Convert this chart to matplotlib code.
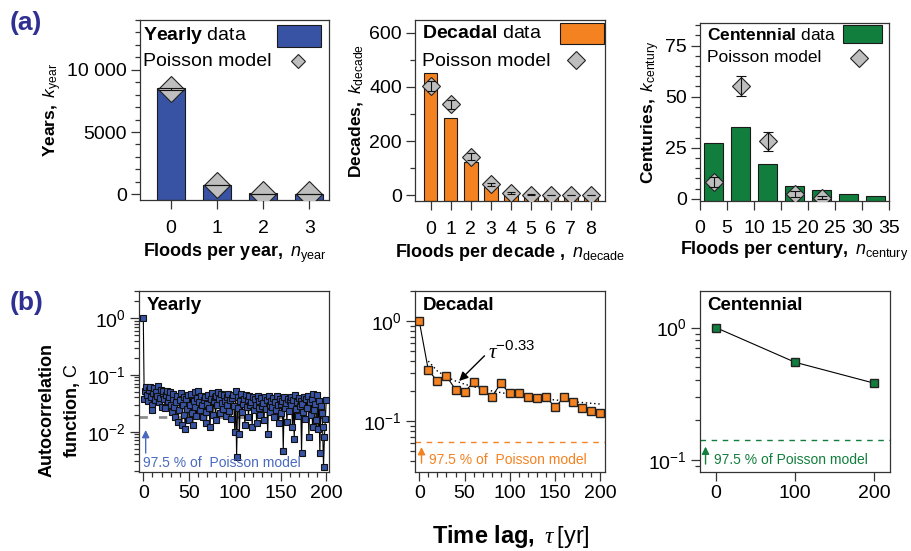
import numpy as np
import matplotlib
matplotlib.use('Agg')
import matplotlib.pyplot as plt
from matplotlib.lines import Line2D
from matplotlib.patches import Rectangle
from matplotlib.ticker import MultipleLocator, FuncFormatter, LogLocator, NullFormatter

plt.rcParams['font.family'] = 'Liberation Sans'
plt.rcParams['mathtext.fontset'] = 'custom'
plt.rcParams['mathtext.rm'] = 'Liberation Sans'
plt.rcParams['mathtext.it'] = 'Liberation Sans:italic'
plt.rcParams['mathtext.bf'] = 'Liberation Sans:bold'
plt.rcParams['mathtext.cal'] = 'Liberation Serif:italic'

## colors
BLUE = '#3953A4'
ORANGE = '#F58220'
GREEN = '#127E3D'
GREY = '#BEBEBE'
NAVY = '#2E3192'

## (a) histogram data
n_year = [0, 1, 2, 3]
k_year = [8520, 720, 75, 15]
poisson_year = [8480, 745, 33, 1]
poisson_year_err = [90, 27, 6, 1]

n_decade = [0, 1, 2, 3, 4, 5, 6, 7, 8]
k_decade = [453, 284, 121, 29, 8, 3, 1, 1, 1]
poisson_decade = [404, 336, 142, 40, 8, 1.4, 0.2, 0.02, 0]
poisson_decade_err = [18, 17, 12, 6, 3, 1, 0.5, 0.3, 0.1]

n_century = [2.5, 7.5, 12.5, 17.5, 22.5, 27.5, 32.5]
k_century = [27.3, 35.2, 17.2, 6.5, 4.4, 2.4, 1.5]
n_century_model = [2.5, 7.5, 12.5, 17.5, 22.5]
poisson_century = [8.1, 55.3, 28.1, 2.4, 0.7]
poisson_century_err = [2.5, 4.9, 4.5, 1.5, 0.7]

## (b) autocorrelation data
acf_year = [1.0,
    0.038, 0.052, 0.060, 0.045, 0.035, 0.055, 0.062, 0.041, 0.030, 0.024,
    0.048, 0.058, 0.036, 0.050, 0.043, 0.063, 0.033, 0.039, 0.055, 0.027,
    0.046, 0.052, 0.037, 0.026, 0.044, 0.051, 0.034, 0.041, 0.049, 0.030,
    0.022, 0.038, 0.047, 0.027, 0.018, 0.033, 0.043, 0.015, 0.024, 0.036,
    0.048, 0.013, 0.029, 0.041, 0.020, 0.011, 0.037, 0.025, 0.044, 0.016,
    0.030, 0.046, 0.021, 0.013, 0.035, 0.049, 0.027, 0.019, 0.039, 0.052,
    0.033, 0.024, 0.043, 0.029, 0.018, 0.036, 0.040, 0.022, 0.014, 0.031,
    0.045, 0.026, 0.012, 0.037, 0.048, 0.020, 0.034, 0.041, 0.016, 0.043,
    0.029, 0.050, 0.038, 0.021, 0.046, 0.032, 0.025, 0.044, 0.035, 0.019,
    0.041, 0.030, 0.047, 0.023, 0.036, 0.017, 0.039, 0.045, 0.028, 0.010,
    0.053, 0.0036, 0.026, 0.040, 0.009, 0.034, 0.047, 0.022, 0.031, 0.038,
    0.013, 0.044, 0.027, 0.036, 0.018, 0.042, 0.029, 0.033, 0.012, 0.040,
    0.024, 0.037, 0.030, 0.014, 0.043, 0.026, 0.034, 0.020, 0.039, 0.028,
    0.032, 0.016, 0.041, 0.025, 0.036, 0.009, 0.043, 0.030, 0.022, 0.035,
    0.027, 0.039, 0.018, 0.033, 0.024, 0.042, 0.029, 0.014, 0.037, 0.031,
    0.021, 0.035, 0.0045, 0.040, 0.026, 0.032, 0.015, 0.038, 0.023, 0.034,
    0.029, 0.041, 0.012, 0.036, 0.0075, 0.044, 0.025, 0.033, 0.019, 0.039,
    0.028, 0.035, 0.0042, 0.031, 0.022, 0.040, 0.017, 0.037, 0.026, 0.043,
    0.008, 0.033, 0.020, 0.038, 0.012, 0.046, 0.024, 0.031, 0.016, 0.045,
    0.011, 0.035, 0.0042, 0.028, 0.021, 0.012, 0.0024, 0.008, 0.017, 0.036]
lag_year = np.arange(len(acf_year))

lag_decade = [0, 10, 20, 30, 40, 50, 60, 70, 80, 90, 100,
              110, 120, 130, 140, 150, 160, 170, 180, 190, 200]
acf_decade = [1.0, 0.324, 0.251, 0.282, 0.207, 0.196, 0.245, 0.204, 0.175, 0.238, 0.189,
              0.192, 0.175, 0.172, 0.175, 0.137, 0.175, 0.156, 0.134, 0.126, 0.121]
fit_exponent = -0.33
fit_amplitude = 0.851

lag_century = [0, 100, 200]
acf_century = [1.0, 0.547, 0.38]

## 97.5 % levels of the Poisson model
level_year = 0.0184
level_decade = 0.0612
level_century = 0.141

W, H = 912, 551
fig = plt.figure(figsize=(W / 100, H / 100), dpi=100)


def add_ax(x0, y0, x1, y1):
    return fig.add_axes([x0 / W, 1 - y1 / H, (x1 - x0) / W, (y1 - y0) / H])


def style(ax):
    for s in ax.spines.values():
        s.set_color('#333333')
        s.set_linewidth(0.9)
    ax.tick_params(which='both', direction='out', top=False, right=False,
                   labelsize=14, width=0.9, color='#333333', pad=3)
    ax.tick_params(which='major', length=6.5)
    ax.tick_params(which='minor', length=3.5)


def bars(ax, x, k, width, color, bottom):
    ax.bar(x, np.array(k) - bottom, bottom=bottom, width=width, color=color,
           edgecolor='#1a1a1a', lw=0.8, zorder=2)


def poisson(ax, x, y, err, ms, cap):
    ax.plot(x, y, 'D', ms=ms, mfc=GREY, mec='#222222', mew=0.8, zorder=3)
    ax.errorbar(x, y, yerr=err, fmt='none', ecolor='#111111', elinewidth=0.8,
                capsize=cap, capthick=0.8, zorder=4)


def key(name, color, fs, tx, y1, y2, box, dxy, dms):
    # hand-placed legend: text left aligned, keys on the right (pixel positions)
    fig.text(tx / W, 1 - y1 / H, r'$\mathbf{%s}$ data' % name, fontsize=fs,
             ha='left', va='center')
    fig.text(tx / W, 1 - y2 / H, 'Poisson model', fontsize=fs, ha='left', va='center')
    x0, yb0, x1, yb1 = box
    fig.add_artist(Rectangle((x0 / W, 1 - yb1 / H), (x1 - x0) / W, (yb1 - yb0) / H,
                             transform=fig.transFigure, facecolor=color,
                             edgecolor='#1a1a1a', lw=0.8))
    fig.add_artist(Line2D([dxy[0] / W], [1 - dxy[1] / H], transform=fig.transFigure,
                          marker='D', ls='none', ms=dms, mfc=GREY, mec='#222222', mew=0.8))


## (a) yearly
ax = add_ax(140, 20, 329, 200)
style(ax)
ax.set_ylim(-460, 14000)
bars(ax, n_year, k_year, 0.6, BLUE, -460)
poisson(ax, n_year, poisson_year, poisson_year_err, 13.7, 9.5)
ax.set_xlim(-0.67, 3.43)
ax.set_xticks(n_year)
ax.tick_params(axis='x', pad=8)
ax.yaxis.set_major_locator(MultipleLocator(5000))
ax.yaxis.set_minor_locator(MultipleLocator(1000))
ax.yaxis.set_major_formatter(FuncFormatter(lambda v, p: '10 000' if v >= 10000 else '%d' % v))
key('Yearly', BLUE, 14, 143, 36, 61, (277, 25, 321, 47), (298, 61), 7.6)
ax.set_xlabel(r'$\mathbf{Floods\ per\ year,}$ $n_{\mathrm{year}}$', fontsize=13, labelpad=3)
ax.set_ylabel(r'$\mathbf{Years,}$ $k_{\mathrm{year}}$', fontsize=12.5, labelpad=2)

## (a) decadal
ax = add_ax(415, 20, 605, 201)
style(ax)
ax.set_ylim(-22, 648)
bars(ax, n_decade, k_decade, 0.68, ORANGE, -22)
poisson(ax, n_decade, poisson_decade, poisson_decade_err, 9.2, 3.2)
ax.set_xlim(-0.78, 8.7)
ax.set_xticks(n_decade)
ax.tick_params(axis='x', pad=8)
ax.yaxis.set_major_locator(MultipleLocator(200))
ax.yaxis.set_minor_locator(MultipleLocator(100))
key('Decadal', ORANGE, 14, 422, 34, 61, (560, 23, 604, 44), (576, 60), 9.2)
ax.set_xlabel(r'$\mathbf{Floods\ per\ decade\ ,}$ $n_{\mathrm{decade}}$', fontsize=13, labelpad=3)
ax.set_ylabel(r'$\mathbf{Decades,}$ $k_{\mathrm{decade}}$', fontsize=12.5, labelpad=2)

## (a) centennial
ax = add_ax(700, 23, 889, 201)
style(ax)
ax.set_ylim(-1, 86)
bars(ax, n_century, k_century, 3.6, GREEN, -1)
poisson(ax, n_century_model, poisson_century, poisson_century_err, 8.7, 3.6)
ax.set_xlim(0, 35)
ax.xaxis.set_major_locator(MultipleLocator(5))
ax.tick_params(axis='x', pad=7)
ax.yaxis.set_major_locator(MultipleLocator(25))
ax.yaxis.set_minor_locator(MultipleLocator(5))
key('Centennial', GREEN, 12.5, 707, 35, 58, (843, 25, 882, 43), (859, 58), 9.2)
ax.set_xlabel(r'$\mathbf{Floods\ per\ century,}$ $n_{\mathrm{century}}$', fontsize=13, labelpad=2)
ax.set_ylabel(r'$\mathbf{Centuries,}$ $k_{\mathrm{century}}$', fontsize=12.5, labelpad=2)


## (b) autocorrelation
def acf_style(ax, ylim, xlim):
    style(ax)
    ax.set_yscale('log')
    ax.set_ylim(*ylim)
    ax.set_xlim(*xlim)
    ax.yaxis.set_minor_locator(LogLocator(base=10, subs=np.arange(2, 10)))
    ax.yaxis.set_minor_formatter(NullFormatter())


def up_arrow(ax, x, y0, y1, color):
    ax.annotate('', xy=(x, y1), xytext=(x, y0),
                arrowprops=dict(arrowstyle='-|>', color=color, lw=1, mutation_scale=11,
                                shrinkA=0, shrinkB=0))


ax = add_ax(139, 291, 329, 472)
acf_style(ax, (0.00195, 3.0), (-4.7, 203))
ax.axhline(level_year, color='#8c8c8c', lw=2, dashes=(3, 4), zorder=1)
ax.plot(lag_year, acf_year, '-', color='k', lw=0.8, marker='s', ms=5,
        mfc=BLUE, mec='#111111', mew=0.8, zorder=3)
up_arrow(ax, 2.6, 0.0042, 0.0107, '#4A6AC0')
ax.text(0, 0.00284, '97.5 % of  Poisson model', color='#4A6AC0', fontsize=10, va='center')
ax.xaxis.set_major_locator(MultipleLocator(50))
ax.xaxis.set_minor_locator(MultipleLocator(10))
ax.text(0.04, 0.965, 'Yearly', transform=ax.transAxes, fontsize=13.5,
        fontweight='bold', va='top')

ax = add_ax(415, 291, 605, 472)
acf_style(ax, (0.031, 2.0), (-4.7, 205))
ax.axhline(level_decade, color=ORANGE, lw=1, dashes=(4, 4), zorder=1)
fit_lag = np.array(lag_decade[1:], dtype=float)
ax.plot(fit_lag, fit_amplitude * fit_lag ** fit_exponent, color='k', lw=1,
        ls=(0, (1, 2)), zorder=2)
ax.plot(lag_decade, acf_decade, '-', color='k', lw=0.8, marker='s', ms=6,
        mfc=ORANGE, mec='#222222', mew=1, zorder=3)
up_arrow(ax, 2.5, 0.038, 0.055, ORANGE)
ax.text(10.7, 0.0405, '97.5 % of  Poisson model', color=ORANGE, fontsize=10, va='center')
ax.annotate('', xy=(44, 0.252), xytext=(72, 0.45),
            arrowprops=dict(arrowstyle='-|>', color='k', lw=1, mutation_scale=13,
                            shrinkA=0, shrinkB=0))
ax.text(76, 0.42, r'$\mathcal{\tau}^{\mathrm{-0.33}}$', fontsize=15.5, va='baseline')
ax.xaxis.set_major_locator(MultipleLocator(50))
ax.xaxis.set_minor_locator(MultipleLocator(10))
ax.text(0.04, 0.965, 'Decadal', transform=ax.transAxes, fontsize=13.5,
        fontweight='bold', va='top')

ax = add_ax(700, 291, 890, 472)
acf_style(ax, (0.081, 1.89), (-20, 220))
ax.axhline(level_century, color=GREEN, lw=1, dashes=(4, 4), zorder=1)
ax.plot(lag_century, acf_century, '-', color='k', lw=0.8, marker='s', ms=5.5,
        mfc=GREEN, mec='#222222', mew=1, zorder=3)
up_arrow(ax, -13, 0.093, 0.126, GREEN)
ax.text(-2, 0.1, '97.5 % of Poisson model', color=GREEN, fontsize=10, va='center')
ax.set_xticks(lag_century)
ax.text(0.04, 0.965, 'Centennial', transform=ax.transAxes, fontsize=13.5,
        fontweight='bold', va='top')

## shared labels
fig.text(60 / W, 1 - 410 / H, 'Autocorrelation\nfunction, $\\mathrm{C}$', rotation=90,
         ha='center', va='center', fontsize=13, fontweight='bold', linespacing=1.45)
fig.text(511 / W, 1 - 536 / H,
         r'$\mathbf{Time\ lag,}\ \mathcal{\tau}\,\mathrm{[yr]}$',
         ha='center', va='center', fontsize=17)

fig.text(10 / W, 1 - 23 / H, '(a)', color=NAVY, fontsize=19, fontweight='bold', va='center')
fig.text(10 / W, 1 - 303 / H, '(b)', color=NAVY, fontsize=19, fontweight='bold', va='center')

fig.savefig('out.png', dpi=100)
